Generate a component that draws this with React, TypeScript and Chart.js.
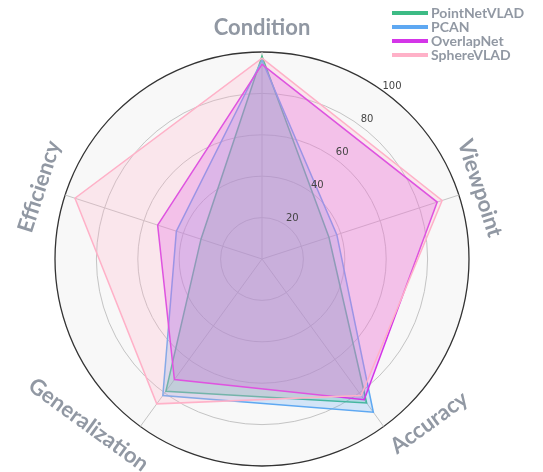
import React, { useEffect, useRef } from "react";
import { Chart, registerables } from "chart.js";

Chart.register(...registerables);

// ---- data ----
const categories = ["Condition", "Viewpoint", "Accuracy", "Generalization", "Efficiency"];
const seriesNames = ["PointNetVLAD", "PCAN", "OverlapNet", "SphereVLAD"];
const pointNetVLAD = [98, 34, 86, 79, 31];
const pcan = [96, 38, 91.5, 81.5, 43.5];
const overlapNet = [94, 89, 84, 72, 53];
const sphereVLAD = [97, 91.5, 81.5, 86.5, 95];
const tickValues = [20, 40, 60, 80, 100];

// ---- style ----
const seriesColors = ["#3dbb85", "#5ea8f2", "#d435e8", "#ffb1c8"];
const labelRadius = [231, 229, 234, 240, 234];
const labelAngleOffset = [0, 0, -9.6, 10.3, 0];
const labelColor = "#9198a3";

function rgba(hex: string, a: number) {
  const n = parseInt(hex.slice(1), 16);
  return `rgba(${(n >> 16) & 255},${(n >> 8) & 255},${n & 255},${a})`;
}

const overlayPlugin = {
  id: "overlay",
  afterDraw(chart: any) {
    const ctx = chart.ctx as CanvasRenderingContext2D;
    const scale = chart.scales.r;
    const cx = scale.xCenter;
    const cy = scale.yCenter;
    ctx.save();

    // radial tick labels
    ctx.font = "10px 'DejaVu Sans'";
    ctx.fillStyle = "#444";
    ctx.textAlign = "center";
    ctx.textBaseline = "middle";
    const ta = (37 * Math.PI) / 180;
    tickValues.forEach((v) => {
      const d = scale.getDistanceFromCenterForValue(v) + 9;
      ctx.fillText(String(v), cx + d * Math.sin(ta), cy - d * Math.cos(ta));
    });

    // rotated category labels
    ctx.font = "bold 22px Lato";
    ctx.fillStyle = labelColor;
    categories.forEach((c, i) => {
      const axis = scale.getIndexAngle(i);
      const axisDeg = (axis * 180) / Math.PI;
      const a = ((axisDeg + labelAngleOffset[i]) * Math.PI) / 180;
      const d = labelRadius[i];
      const x = cx + d * Math.sin(a);
      const y = cy - d * Math.cos(a);
      let rot = axisDeg <= 90 || axisDeg >= 270 ? axisDeg : axisDeg - 180;
      if (rot > 180) rot -= 360;
      ctx.save();
      ctx.translate(x, y);
      ctx.rotate((rot * Math.PI) / 180);
      ctx.fillText(c, 0, 0);
      ctx.restore();
    });

    // legend
    const x0 = 384;
    ctx.font = "bold 14px Lato";
    ctx.textAlign = "left";
    seriesNames.forEach((name, i) => {
      const y = 5 + 14 * i;
      ctx.strokeStyle = seriesColors[i];
      ctx.lineWidth = 4;
      ctx.beginPath();
      ctx.moveTo(x0, y);
      ctx.lineTo(x0 + 36, y);
      ctx.stroke();
      ctx.fillStyle = labelColor;
      ctx.fillText(name, x0 + 39, y + 0.5);
    });
    ctx.restore();
  },
};

export default function App() {
  const ref = useRef<HTMLCanvasElement | null>(null);
  useEffect(() => {
    if (!ref.current) return;
    const allData = [pointNetVLAD, pcan, overlapNet, sphereVLAD];
    const chart = new Chart(ref.current, {
      type: "radar",
      data: {
        labels: categories,
        datasets: seriesNames.map((name, i) => ({
          label: name,
          data: allData[i],
          borderColor: seriesColors[i],
          backgroundColor: rgba(seriesColors[i], 0.25),
          borderWidth: 1.5,
          pointRadius: 0,
          fill: true,
          tension: 0,
          order: seriesNames.length - i,
        })),
      },
      options: {
        responsive: false,
        animation: false,
        layout: { padding: { left: 47, right: 65, top: 44, bottom: 5 } },
        plugins: { legend: { display: false }, tooltip: { enabled: false } },
        scales: {
          r: {
            min: 0,
            max: 100,
            ticks: { display: false, stepSize: 20 },
            pointLabels: { display: false },
            grid: {
              circular: true,
              color: (c: any) => (c.tick && c.tick.value === 100 ? "#333" : "#c4c4c4"),
              lineWidth: (c: any) => (c.tick && c.tick.value === 100 ? 1.3 : 1),
            },
            angleLines: { color: "#c4c4c4", lineWidth: 1 },
            backgroundColor: "#f8f8f8",
          },
        },
      },
      plugins: [overlayPlugin],
    } as any);
    return () => chart.destroy();
  }, []);
  return (
    <div style={{ width: 527, height: 464 }}>
      <canvas ref={ref} width={527} height={464} style={{ display: "block" }} />
    </div>
  );
}
